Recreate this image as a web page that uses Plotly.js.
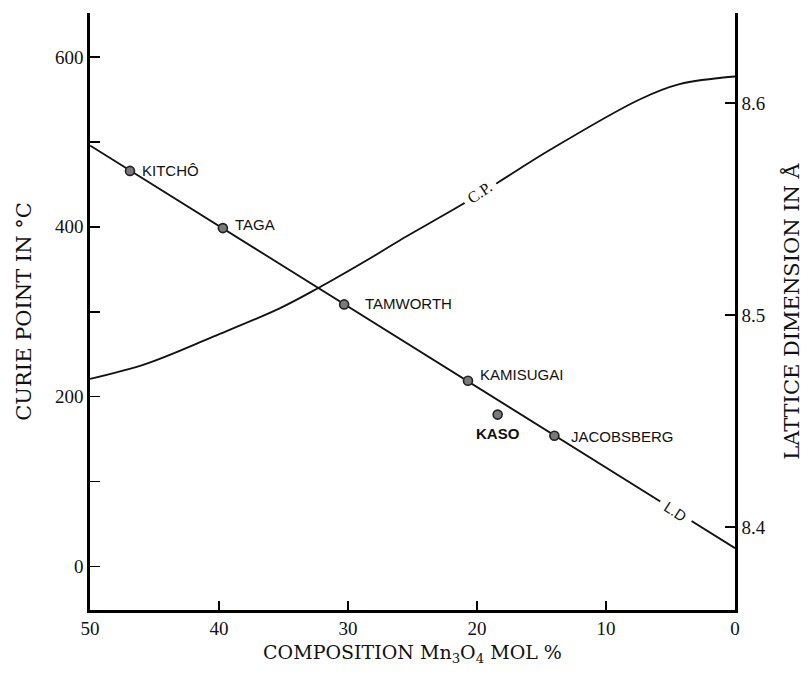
<!DOCTYPE html>
<html>
<head>
<meta charset="utf-8">
<script src="https://cdn.plot.ly/plotly-3.0.1.min.js"></script>
<style>html,body{margin:0;padding:0;background:#fff;}#chart{width:809px;height:676px;}</style>
</head>
<body>
<div id="chart"></div>
<script>
// ---- data ----
const xTickVals = [50, 40, 30, 20, 10, 0];
const xTickText = ["50", "40", "30", "20", "10", "0"];
const yTickVals = [0, 100, 200, 300, 400, 500, 600];
const yTickText = ["0", "", "200", "", "400", "", "600"];
const y2TickVals = [8.4, 8.5, 8.6];
const y2TickText = ["8.4", "8.5", "8.6"];

// Curie point curve (left axis)
const cpComposition = [50, 45.6, 40.4, 35.3, 32.3, 27.5, 26.0, 21.3, 18.4, 14.3, 7.4, 4.3, 0];
const curiePoint    = [221, 239, 271, 304, 328, 370, 384, 425, 452, 491, 550, 568, 577];

// Lattice dimension line (right axis)
const ldComposition = [50, 0];
const latticeLine   = [8.580, 8.390];

// Minerals (right axis)
const minerals           = ["KITCHÔ", "TAGA", "TAMWORTH", "KAMISUGAI", "KASO", "JACOBSBERG"];
const mineralComposition = [46.9, 39.7, 30.3, 20.7, 18.4, 14.0];
const mineralLattice     = [8.568, 8.541, 8.505, 8.469, 8.453, 8.443];

// ---- label placement (styling, px offsets) ----
const labelStyle = [
  {xs: 10, ys: 0,   anchor: "left",   bold: false},
  {xs: 10, ys: 4,   anchor: "left",   bold: false},
  {xs: 19, ys: 1,   anchor: "left",   bold: false},
  {xs: 10, ys: 6,   anchor: "left",   bold: false},
  {xs: 0,  ys: -19, anchor: "center", bold: true},
  {xs: 15, ys: -1,  anchor: "left",   bold: false}
];

const serif = "Liberation Serif, Times New Roman, serif";
const titleSerif = "DejaVu Serif, Liberation Serif, serif";
const sans = "Liberation Sans Narrow, Liberation Sans, Arial, sans-serif";

const traces = [
  {
    x: cpComposition, y: curiePoint, yaxis: "y", type: "scatter", mode: "lines",
    line: {color: "#111", width: 1.8, shape: "spline", smoothing: 1},
    hoverinfo: "skip"
  },
  {
    x: ldComposition, y: latticeLine, yaxis: "y2", type: "scatter", mode: "lines",
    line: {color: "#111", width: 1.8},
    hoverinfo: "skip"
  },
  {
    x: mineralComposition, y: mineralLattice, yaxis: "y2", type: "scatter", mode: "markers",
    marker: {size: 9, color: "#7a7a7a", line: {color: "#222", width: 1.6}},
    hoverinfo: "skip"
  }
];

const annotations = minerals.map((name, i) => ({
  x: mineralComposition[i], y: mineralLattice[i], xref: "x", yref: "y2",
  text: labelStyle[i].bold ? "<b>" + name + "</b>" : name,
  showarrow: false, xanchor: labelStyle[i].anchor, yanchor: "middle",
  xshift: labelStyle[i].xs, yshift: labelStyle[i].ys,
  font: {family: sans, size: 15, color: "#111"}
}));

// curve labels breaking the lines
annotations.push({
  x: 19.8, y: 440, xref: "x", yref: "y", text: "C.P.", showarrow: false,
  textangle: -34, bgcolor: "#fff", borderpad: 5,
  font: {family: serif, size: 16, color: "#111"}
});
annotations.push({
  x: 4.6, y: 8.4075, xref: "x", yref: "y2", text: "L.D", showarrow: false,
  textangle: 33, bgcolor: "#fff", borderpad: 6,
  font: {family: sans, size: 15, color: "#111"}
});

const axisCommon = {
  showgrid: false, zeroline: false, showline: true, linecolor: "#000", linewidth: 2.6,
  ticks: "inside", tickcolor: "#000", tickwidth: 1.5, ticklen: 10,
  tickfont: {family: serif, size: 19, color: "#111"}
};

const layout = {
  width: 809, height: 676,
  margin: {l: 90, r: 74, t: 13, b: 66, pad: 0},
  paper_bgcolor: "#fff", plot_bgcolor: "#fff",
  showlegend: false,
  xaxis: Object.assign({}, axisCommon, {
    range: [50, 0], tickmode: "array", tickvals: xTickVals, ticktext: xTickText, ticklen: 9,
    title: {text: "COMPOSITION Mn<sub>3</sub>O<sub>4</sub> MOL %", font: {family: titleSerif, size: 19, color: "#111"}, standoff: 8}
  }),
  yaxis: Object.assign({}, axisCommon, {
    range: [-51.2, 651.8], tickmode: "array", tickvals: yTickVals, ticktext: yTickText,
    title: {text: "CURIE POINT IN °C", font: {family: titleSerif, size: 21, color: "#111"}, standoff: 18}
  }),
  yaxis2: Object.assign({}, axisCommon, {
    overlaying: "y", side: "right",
    range: [8.3608, 8.6425], tickmode: "array", tickvals: y2TickVals, ticktext: y2TickText,
    title: {text: "LATTICE DIMENSION IN Å", font: {family: titleSerif, size: 21, color: "#111"}, standoff: 20}
  }),
  annotations: annotations
};

Plotly.newPlot("chart", traces, layout, {staticPlot: true, displayModeBar: false});
</script>
</body>
</html>
